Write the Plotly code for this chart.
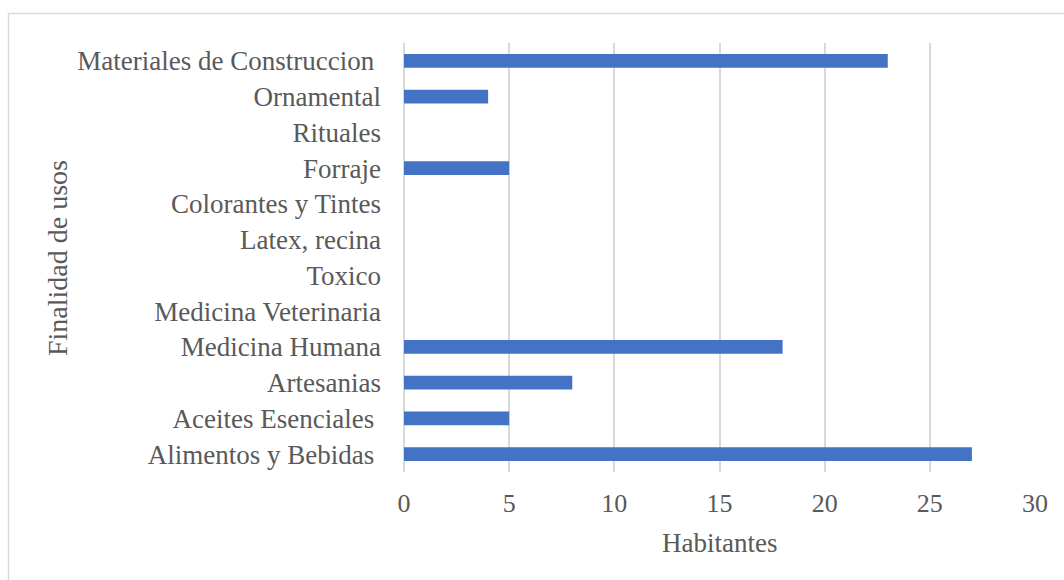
import plotly.graph_objects as go

# Uses by category (listed bottom to top as drawn on the y axis)
categorias = [
    "Alimentos y Bebidas ",
    "Aceites Esenciales ",
    "Artesanias",
    "Medicina Humana",
    "Medicina Veterinaria",
    "Toxico",
    "Latex, recina",
    "Colorantes y Tintes",
    "Forraje",
    "Rituales",
    "Ornamental",
    "Materiales de Construccion ",
]
habitantes = [27, 5, 8, 18, 0, 0, 0, 0, 5, 0, 4, 23]
x_ticks = [0, 5, 10, 15, 20, 25, 30]

FONT = "Liberation Serif, Times New Roman, serif"
GREY = "#595959"
GRID = "#d9d9d9"

W, H = 1064, 580
L, R, T, B = 404, 29, 43, 108
pw, ph = W - L - R, H - T - B


def px_x(p):
    return (p - L) / pw


def px_y(p):
    return (H - B - p) / ph


fig = go.Figure(
    go.Bar(
        x=habitantes,
        y=categorias,
        orientation="h",
        marker=dict(color="#4472C4", line=dict(width=0)),
        hoverinfo="x+y",
    )
)

fig.update_layout(
    width=W,
    height=H,
    margin=dict(l=L, r=R, t=T, b=B),
    paper_bgcolor="white",
    plot_bgcolor="white",
    bargap=0.61,
    showlegend=False,
    font=dict(family=FONT, color=GREY, size=26),
    xaxis=dict(
        range=[0, 30],
        tickvals=x_ticks,
        showgrid=True,
        gridcolor=GRID,
        gridwidth=2,
        zeroline=True,
        zerolinecolor=GRID,
        zerolinewidth=2,
        showline=False,
        ticks="",
        ticklabelstandoff=13,
        tickfont=dict(family=FONT, color=GREY, size=26),
        fixedrange=True,
    ),
    yaxis=dict(
        categoryorder="array",
        categoryarray=categorias,
        showgrid=False,
        zeroline=False,
        showline=False,
        ticks="",
        ticklabelstandoff=22,
        tickfont=dict(family=FONT, color=GREY, size=27),
        fixedrange=True,
    ),
    annotations=[
        dict(
            text="Habitantes",
            xref="paper", yref="paper",
            x=px_x(719), y=px_y(543),
            showarrow=False,
            font=dict(family=FONT, color=GREY, size=27),
            xanchor="center", yanchor="middle",
        ),
        dict(
            text="Finalidad de usos",
            xref="paper", yref="paper",
            x=px_x(57), y=px_y(258),
            showarrow=False,
            textangle=-90,
            font=dict(family=FONT, color=GREY, size=28),
            xanchor="center", yanchor="middle",
        ),
    ],
    shapes=[
        dict(
            type="rect",
            xref="paper", yref="paper",
            x0=px_x(8.5), x1=px_x(1080),
            y0=px_y(600), y1=px_y(13.5),
            line=dict(color=GRID, width=1.5),
            fillcolor="rgba(0,0,0,0)",
            layer="below",
        )
    ],
)

fig.write_html("out.html", config={"displayModeBar": False})
